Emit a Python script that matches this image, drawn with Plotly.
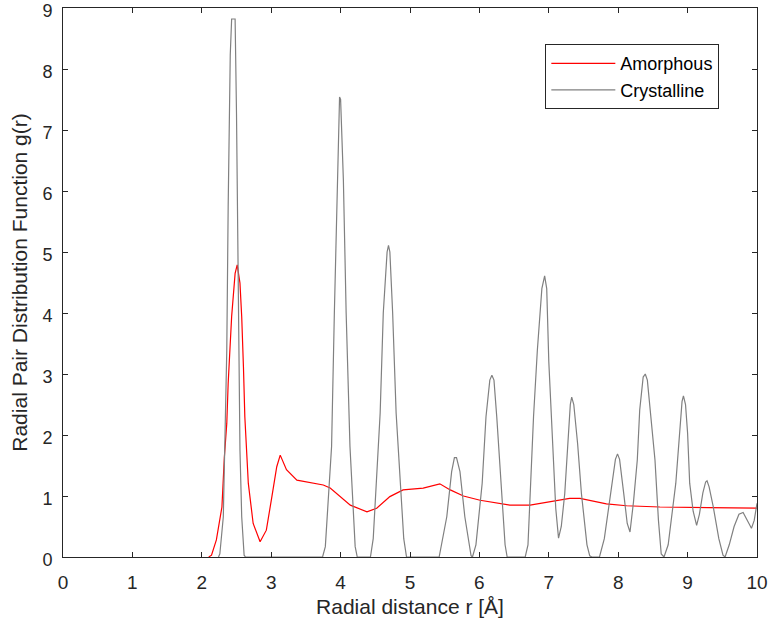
import plotly.graph_objects as go

# Crystalline g(r)
cryst_r = [2.24, 2.26, 2.31, 2.33, 2.36, 2.38, 2.41, 2.43, 2.48, 2.50, 2.52, 2.53, 2.55, 2.575, 2.61, 2.63,
           3.74, 3.78, 3.87, 3.91, 3.95, 3.985, 4.00, 4.04, 4.08, 4.135, 4.21, 4.24,
           4.43, 4.47, 4.57, 4.615, 4.67, 4.69, 4.71, 4.75, 4.80, 4.91, 4.95,
           5.42, 5.53, 5.60, 5.64, 5.67, 5.72, 5.79, 5.88, 5.90,
           5.95, 6.04, 6.095, 6.15, 6.18, 6.21, 6.25, 6.31, 6.37, 6.40,
           6.66, 6.70, 6.78, 6.835, 6.90, 6.94, 6.97, 7.00, 7.04, 7.10, 7.14,
           7.18, 7.23, 7.27, 7.31, 7.33, 7.36, 7.415, 7.47, 7.55, 7.59, 7.62,
           7.73, 7.80, 7.89, 7.96, 7.99, 8.02, 8.08, 8.13, 8.17,
           8.22, 8.275, 8.31, 8.36, 8.39, 8.42, 8.46, 8.53, 8.58, 8.62, 8.66,
           8.72, 8.83, 8.88, 8.92, 8.94, 8.97, 9.00, 9.03, 9.08, 9.13,
           9.17, 9.22, 9.26, 9.28, 9.31, 9.37, 9.45, 9.51, 9.54,
           9.60, 9.67, 9.74, 9.80, 9.86, 9.92, 9.96, 10.0]
cryst_g = [0, 0.05, 0.66, 1.75, 3.39, 5.74, 8.23, 8.82, 8.82, 7.27, 5.0, 3.39, 1.75, 0.66, 0.03, 0,
           0, 0.17, 1.81, 4.0, 6.18, 7.54, 7.5, 6.18, 4.0, 1.81, 0.17, 0,
           0, 0.3, 2.36, 4.0, 5.0, 5.11, 5.0, 4.0, 2.36, 0.3, 0,
           0, 0.66, 1.4, 1.63, 1.63, 1.4, 0.66, 0.02, 0,
           0.2, 1.21, 2.30, 2.9, 2.98, 2.9, 2.30, 1.21, 0.2, 0,
           0, 0.2, 2.3, 3.39, 4.4, 4.61, 4.4, 3.2, 2.3, 0.8, 0.31,
           0.5, 1.04, 1.86, 2.5, 2.62, 2.5, 1.86, 1.04, 0.2, 0.02, 0,
           0, 0.3, 1.04, 1.6, 1.69, 1.6, 1.04, 0.55, 0.41,
           0.9, 1.59, 2.41, 2.95, 3.0, 2.9, 2.41, 1.59, 0.6, 0.05, 0,
           0.2, 1.21, 2.03, 2.55, 2.64, 2.5, 2.03, 1.21, 0.75, 0.52,
           0.7, 1.05, 1.23, 1.25, 1.15, 0.82, 0.3, 0.03, 0,
           0.2, 0.5, 0.7, 0.73, 0.6, 0.47, 0.6, 0.88]

# Amorphous g(r)
amor_r = [2.10, 2.14, 2.21, 2.29, 2.325, 2.36, 2.38, 2.43, 2.48, 2.51, 2.55, 2.575, 2.60, 2.62, 2.67,
          2.74, 2.84, 2.93, 3.01, 3.08, 3.13, 3.22, 3.37, 3.56, 3.75, 3.85, 3.99, 4.14, 4.38, 4.52,
          4.71, 4.90, 5.19, 5.43, 5.58, 5.77, 6.01, 6.25, 6.44, 6.73, 6.97, 7.16, 7.30, 7.45, 7.64,
          7.83, 8.12, 8.60, 9.30, 10.0]
amor_g = [0, 0.03, 0.28, 0.82, 1.64, 2.19, 2.85, 3.94, 4.65, 4.79, 4.49, 3.94, 3.12, 2.30, 1.21,
          0.55, 0.25, 0.44, 0.99, 1.48, 1.67, 1.43, 1.26, 1.22, 1.18, 1.13, 0.99, 0.85, 0.74, 0.80,
          0.99, 1.10, 1.13, 1.20, 1.10, 1.0, 0.93, 0.89, 0.85, 0.85, 0.90, 0.93, 0.96, 0.96, 0.91,
          0.87, 0.84, 0.82, 0.81, 0.80]

x_ticks = list(range(0, 11))
y_ticks = list(range(0, 10))

FONT = "Liberation Sans, Arial, Helvetica, sans-serif"

fig = go.Figure()
fig.add_trace(go.Scatter(x=amor_r, y=amor_g, mode="lines", name="Amorphous",
                         line=dict(color="#ff0000", width=1.2)))
fig.add_trace(go.Scatter(x=cryst_r, y=cryst_g, mode="lines", name="Crystalline",
                         line=dict(color="#808080", width=1.2)))

axis_common = dict(showline=True, linecolor="#262626", linewidth=1, mirror="allticks",
                   ticks="inside", ticklen=5, tickcolor="#262626", showgrid=False, zeroline=False,
                   automargin=False, layer="above traces", ticklabeloverflow="allow")

fig.update_xaxes(range=[0, 10], tickvals=x_ticks, ticktext=[str(v) for v in x_ticks],
                 ticklabelstandoff=8,
                 tickfont=dict(family=FONT, size=19, color="#262626"),
                 title=dict(text="Radial distance r [Å]", standoff=7,
                            font=dict(family=FONT, size=21, color="#262626")),
                 **axis_common)
fig.update_yaxes(range=[0, 9], tickvals=y_ticks, ticktext=[str(v) for v in y_ticks],
                 ticklabelstandoff=6, ticklabelshift=3,
                 tickfont=dict(family=FONT, size=18, color="#262626"),
                 title=dict(text="Radial Pair Distribution Function g(r)", standoff=9,
                            font=dict(family=FONT, size=21, color="#262626")),
                 **axis_common)

fig.update_layout(
    width=770, height=628,
    margin=dict(l=63, r=13, t=8, b=71, autoexpand=False),
    plot_bgcolor="white", paper_bgcolor="white",
    legend=dict(x=0.695, y=0.934, xanchor="left", yanchor="top",
                bgcolor="white", bordercolor="#262626", borderwidth=1,
                itemwidth=64,
                font=dict(family=FONT, size=18, color="#000000"),
                tracegroupgap=0),
    showlegend=True,
)

fig.write_html("out.html", config={"displayModeBar": False},
               post_script="document.body.style.margin='0';")
